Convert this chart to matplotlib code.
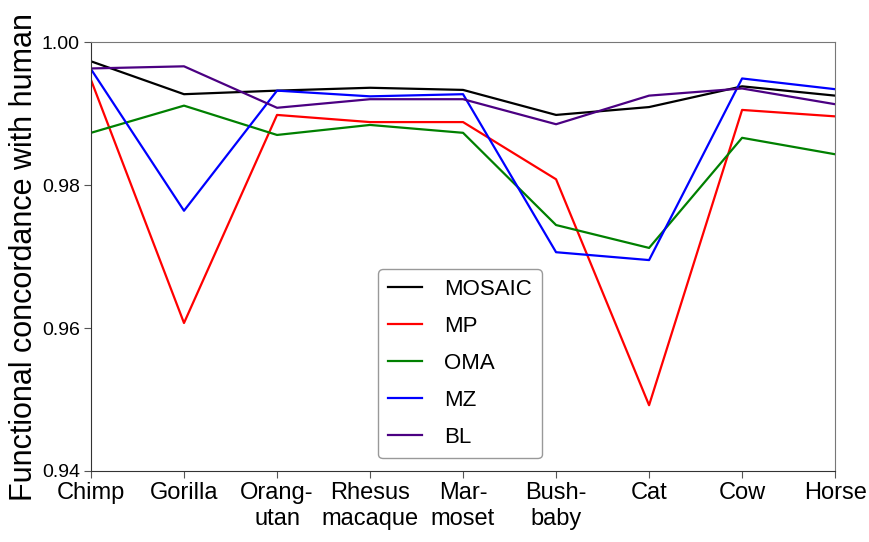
import matplotlib
matplotlib.use("Agg")
import matplotlib.pyplot as plt

species = ["Chimp", "Gorilla", "Orang-\nutan", "Rhesus\nmacaque", "Mar-\nmoset",
           "Bush-\nbaby", "Cat", "Cow", "Horse"]

mosaic = [0.9973, 0.9927, 0.9932, 0.9936, 0.9933, 0.9898, 0.9909, 0.9938, 0.9925]
mp     = [0.9947, 0.9607, 0.9898, 0.9888, 0.9888, 0.9808, 0.9492, 0.9905, 0.9896]
oma    = [0.9873, 0.9911, 0.9870, 0.9884, 0.9873, 0.9744, 0.9712, 0.9866, 0.9843]
mz     = [0.9962, 0.9764, 0.9932, 0.9924, 0.9927, 0.9706, 0.9695, 0.9949, 0.9934]
bl     = [0.9963, 0.9966, 0.9908, 0.9920, 0.9920, 0.9885, 0.9925, 0.9935, 0.9913]

series = [("MOSAIC", mosaic, "black"), ("MP", mp, "red"), ("OMA", oma, "green"),
          ("MZ", mz, "blue"), ("BL", bl, "indigo")]

font = "Liberation Sans"

fig = plt.figure(figsize=(8.69, 5.42), dpi=100)
ax = fig.add_axes([0.1047, 0.131, 0.8563, 0.7915])

x = range(len(species))
for name, vals, col in series:
    ax.plot(x, vals, color=col, lw=1.6, label=name)

ax.set_xlim(0, len(species) - 1)
ax.set_ylim(0.94, 1.00)
ax.set_yticks([0.94, 0.96, 0.98, 1.00])
ax.set_yticklabels(["0.94", "0.96", "0.98", "1.00"], fontfamily=font, fontsize=14)
ax.set_xticks(list(x))
ax.set_xticklabels(species, fontfamily=font, fontsize=17, linespacing=1.2)
ax.tick_params(axis="both", direction="out", length=5, color="#555555", pad=3)
ax.set_ylabel("Functional concordance with human", fontfamily=font,
              fontsize=22, labelpad=2)

for s in ["top", "right"]:
    ax.spines[s].set_color("#777777")
for s in ["left", "bottom"]:
    ax.spines[s].set_color("#333333")

leg = ax.legend(loc="lower left", bbox_to_anchor=(0.386, 0.03), borderaxespad=0,
                prop={"family": font, "size": 16}, handlelength=1.5,
                handletextpad=1.0, labelspacing=0.72, borderpad=0.45,
                fancybox=True, framealpha=1)
leg.get_frame().set_edgecolor("#999999")

fig.savefig("out.png", dpi=100)
